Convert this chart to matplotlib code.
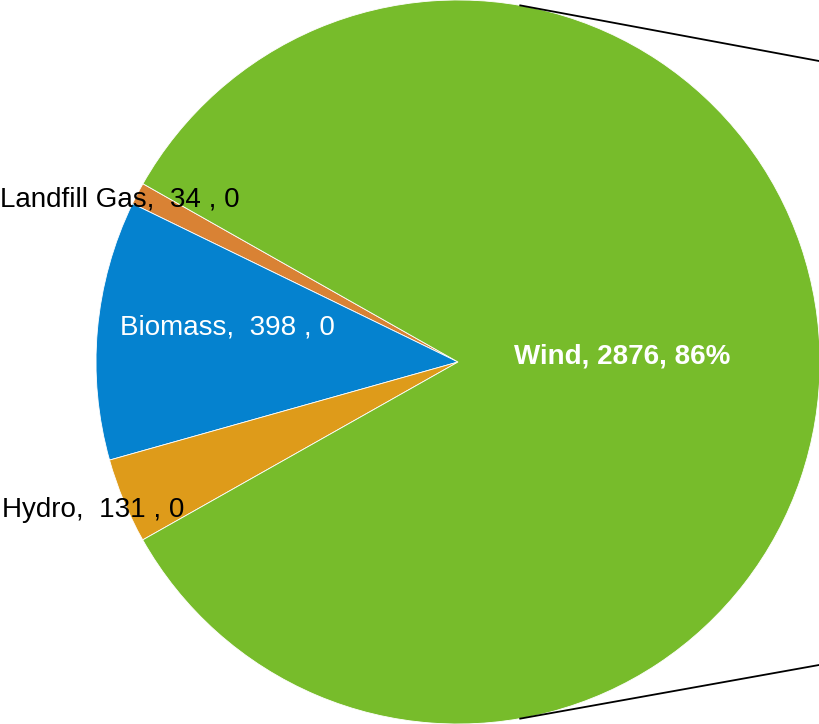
import numpy as np
import matplotlib.pyplot as plt

plt.rcParams['font.family'] = ['Liberation Sans', 'DejaVu Sans']

# Data
sources = ["Landfill Gas", "Biomass", "Hydro", "Wind"]
capacity = [34, 398, 131, 2876]
second_field = ["0", "0", "0", "86%"]
colors = ["#D98234", "#0582CF", "#DE9B1A", "#77BC2B"]

# canvas in pixel units
W, H = 819, 724
fig = plt.figure(figsize=(W / 100, H / 100), dpi=100)
ax = fig.add_axes([0, 0, 1, 1])

cx, cy, r = 458, 362, 362
ax.pie(capacity, colors=colors, startangle=150.5, counterclock=True,
       center=(cx, cy), radius=r, frame=True,
       wedgeprops=dict(linewidth=0.6, edgecolor="white"))
ax.set_xlim(0, W)
ax.set_ylim(0, H)
ax.axis("off")

# connector lines towards the (cropped) secondary pie
ang = np.deg2rad(80.1)
ax.plot([cx + r * np.cos(ang), W], [cy + r * np.sin(ang), H - 61], color="black", lw=1.3)
ax.plot([cx + r * np.cos(ang), W], [cy - r * np.sin(ang), 59], color="black", lw=1.3)

# labels
fs = 20
ax.text(0, 524, f"{sources[0]},  {capacity[0]} , {second_field[0]}", fontsize=fs,
        color="black", ha="left", va="center")
ax.text(120, 396, f"{sources[1]},  {capacity[1]} , {second_field[1]}", fontsize=fs,
        color="white", ha="left", va="center")
ax.text(2, 214, f"{sources[2]},  {capacity[2]} , {second_field[2]}", fontsize=fs,
        color="black", ha="left", va="center")
ax.text(514, 367, f"{sources[3]}, {capacity[3]}, {second_field[3]}", fontsize=fs,
        color="white", ha="left", va="center", fontweight="bold")

plt.savefig("out.png", dpi=100)
